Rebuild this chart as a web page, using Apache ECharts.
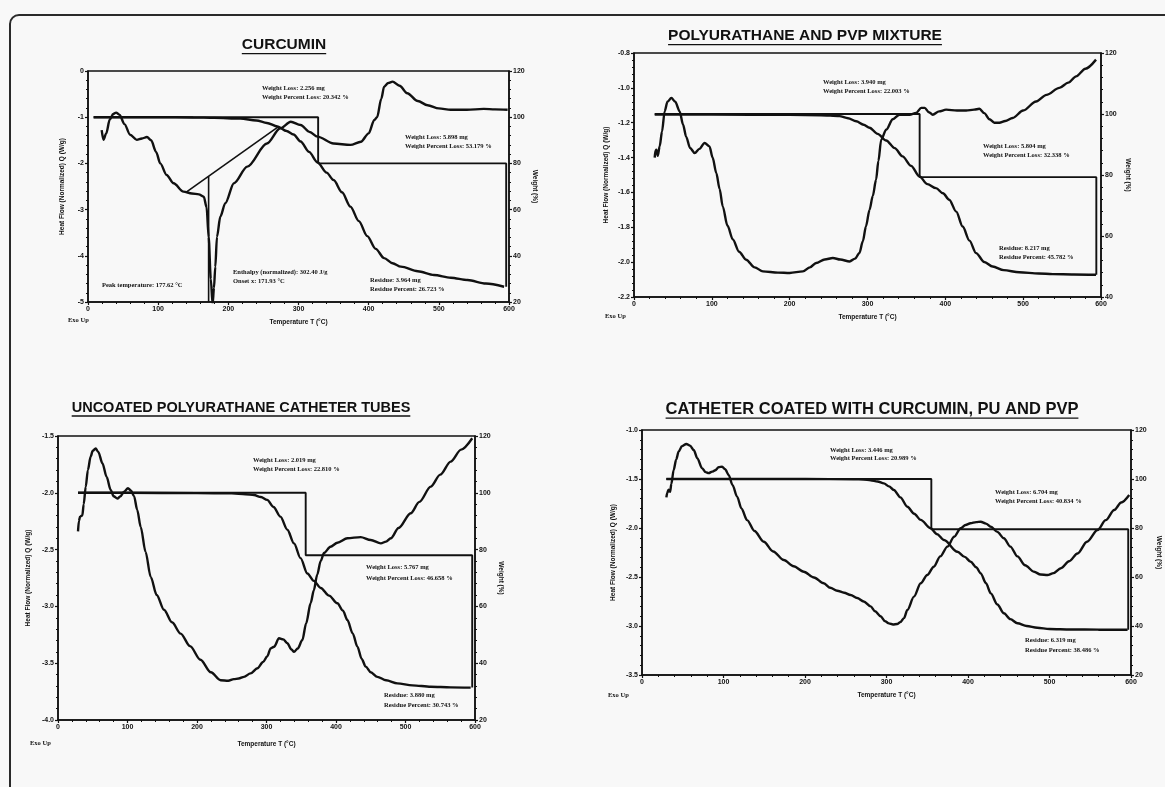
<!DOCTYPE html>
<html>
<head>
<meta charset="utf-8">
<script src="https://cdn.jsdelivr.net/npm/echarts/dist/echarts.min.js"></script>
<style>
  html, body { margin: 0; background: #f8f8f8; }
  #main { width: 1165px; height: 787px; }
</style>
</head>
<body>
<div id="main"></div>
<script>
// ---- data: [temperature °C, value] ----
const curcuminHeat = [[19.5,-1.28],[22,-1.49],[26,-1.35],[31,-1.05],[36,-0.93],[40,-0.90],[45,-0.95],[52,-1.15],[60,-1.38],[69.5,-1.49],[77,-1.46],[84,-1.43],[90,-1.5],[97,-1.75],[103,-2.0],[112,-2.25],[122,-2.43],[136,-2.61],[148,-2.65],[158,-2.67],[165,-2.72],[169,-2.95],[172,-3.6],[175,-4.5],[177.6,-5.05],[179.5,-4.7],[181.4,-4.24],[183.8,-3.59],[188.6,-3.15],[195.7,-2.86],[208,-2.43],[227,-2.07],[255,-1.57],[274,-1.24],[289,-1.10],[303,-1.17],[316,-1.32],[327,-1.42],[350,-1.57],[374,-1.60],[389,-1.53],[400,-1.35],[408,-1.06],[412,-1.0],[418,-0.6],[422,-0.34],[428,-0.26],[434,-0.23],[444,-0.32],[455,-0.48],[470,-0.65],[484,-0.74],[500,-0.81],[517,-0.84],[540,-0.84],[564,-0.82],[580,-0.83],[598,-0.84]];
const curcuminWeight = [[8,100],[50,100],[100,100],[150,99.9],[180,99.7],[217,99.4],[240,98.6],[255,97.5],[270,96],[283,94],[293,92.5],[303,89.5],[315,85],[327,80.5],[340,76],[350,72.8],[362,67.5],[374,61.3],[386,55],[398,48.5],[410,43],[422,39],[434,36.8],[446,35.3],[470,33.3],[493,31.7],[517,30.5],[541,29.5],[567,28],[593,26.6]];
const curcuminSteps = [[8,100],[328,100],[328,80],[596,80],[596,26.6]];
const curcuminBaseline = [[141,-2.61],[272,-1.2]];
const curcuminOnset = [[171.9,-2.28],[171.9,-5]];

const puPvpHeat = [[26.6,-1.40],[27.5,-1.36],[28.7,-1.355],[30.5,-1.39],[33,-1.335],[36,-1.25],[39.4,-1.135],[43,-1.08],[48,-1.058],[53,-1.08],[58.7,-1.135],[63,-1.21],[67,-1.28],[72,-1.345],[78,-1.374],[84,-1.35],[90.7,-1.316],[97,-1.336],[101,-1.40],[105.8,-1.49],[110,-1.58],[114,-1.68],[120,-1.79],[127,-1.87],[135,-1.94],[144,-1.986],[155,-2.03],[165.6,-2.053],[185,-2.06],[200,-2.062],[217,-2.053],[226,-2.03],[234,-2.005],[245,-1.985],[255.5,-1.976],[265,-1.985],[277,-1.996],[284,-1.98],[289.7,-1.947],[294,-1.88],[298,-1.795],[302.6,-1.70],[306.8,-1.62],[311,-1.527],[314,-1.42],[317.6,-1.297],[324,-1.24],[332.5,-1.18],[341,-1.154],[354,-1.154],[362.5,-1.144],[369,-1.115],[373.5,-1.115],[379,-1.14],[383.8,-1.154],[392,-1.135],[401,-1.125],[415,-1.13],[426.7,-1.13],[437,-1.125],[443.8,-1.12],[450,-1.145],[456.6,-1.18],[463,-1.2],[469.4,-1.20],[477,-1.19],[486.5,-1.173],[500,-1.13],[516.6,-1.078],[530,-1.04],[546.5,-1.0],[558,-0.97],[568,-0.934],[580,-0.89],[593.6,-0.838]];
const puPvpWeight = [[26.6,99.8],[100,99.8],[200,99.7],[240,99.6],[264,99.3],[275,98.6],[285.5,97.6],[295,96.5],[302.6,95.5],[313,93.5],[324,91.3],[335,88.8],[345,86.1],[356,83],[366.8,79.5],[377,77],[388,75.7],[397,74],[405,71.9],[414,68],[422.3,63.1],[431,58.5],[439.5,54.4],[450,51.5],[460.8,50.0],[475,48.8],[495,48.1],[520,47.7],[538,47.5],[565,47.4],[593.6,47.3]];
const puPvpSteps = [[26.6,100],[367,100],[367,79.3],[594,79.3],[594,47.3]];

const uncoatedHeat = [[28.8,-2.34],[30,-2.25],[31.7,-2.21],[35,-2.2],[37,-2.1],[39.9,-1.946],[43,-1.8],[47,-1.68],[50,-1.63],[54.2,-1.61],[58,-1.64],[63.9,-1.74],[70,-1.86],[75.8,-1.975],[80,-2.03],[85.5,-2.05],[90,-2.03],[95,-1.99],[100.7,-1.96],[105,-1.98],[109.4,-2.03],[114,-2.15],[119,-2.30],[126,-2.52],[133.4,-2.74],[142,-2.9],[152.5,-3.03],[164,-3.14],[176.5,-3.24],[190,-3.35],[205,-3.47],[220,-3.58],[234,-3.65],[245,-3.655],[253,-3.64],[260,-3.635],[267.6,-3.62],[277,-3.59],[287,-3.545],[295,-3.49],[301,-3.44],[306,-3.37],[311,-3.355],[318,-3.28],[324,-3.29],[330,-3.325],[336,-3.38],[339.6,-3.40],[345,-3.37],[351.6,-3.296],[357,-3.15],[363.6,-2.97],[368,-2.86],[373,-2.72],[378,-2.6],[382.7,-2.53],[392,-2.475],[402,-2.44],[416.4,-2.40],[435.5,-2.39],[450,-2.415],[464.5,-2.445],[472,-2.43],[479,-2.40],[490,-2.31],[507.5,-2.18],[520,-2.08],[536.3,-1.946],[550,-1.84],[565,-1.726],[580,-1.62],[596,-1.52]];
const uncoatedWeight = [[28.8,100],[100,100],[200,99.9],[250,99.8],[270,99.5],[282,99.2],[292,98.5],[301,97.5],[310,95],[320,91.6],[330,87],[339.6,82.2],[349,77],[358.8,71.6],[368,69],[378,66.5],[390,63.8],[402,61.1],[410,58.5],[416.4,55.2],[424,50.5],[430.8,45.8],[437,41.5],[442.7,38.8],[450,36.8],[459.5,35.2],[472,34],[488.3,32.9],[510,32.2],[536.3,31.7],[565,31.5],[593.8,31.4]];
const uncoatedSteps = [[28.8,100],[356.4,100],[356.4,78],[596,78],[596,31.4]];

const coatedHeat = [[29.9,-1.687],[31,-1.64],[32.7,-1.61],[34.5,-1.63],[36,-1.55],[38.8,-1.41],[42,-1.3],[45,-1.22],[49,-1.165],[54.4,-1.143],[59,-1.16],[63.4,-1.204],[68,-1.29],[73.7,-1.39],[78,-1.43],[81.8,-1.44],[86,-1.425],[90,-1.41],[94,-1.38],[98.3,-1.374],[102,-1.40],[106.4,-1.46],[111,-1.56],[116.7,-1.68],[122,-1.8],[129,-1.92],[138,-2.03],[149.4,-2.14],[161,-2.24],[174,-2.327],[186,-2.39],[198.5,-2.446],[211,-2.505],[223,-2.564],[231,-2.61],[239.5,-2.64],[248,-2.66],[256,-2.684],[264,-2.715],[272,-2.75],[280.5,-2.80],[286,-2.85],[292.7,-2.90],[298,-2.95],[303,-2.973],[308,-2.985],[313,-2.98],[317,-2.96],[321.4,-2.92],[325.6,-2.837],[333.7,-2.70],[342,-2.564],[350,-2.48],[358,-2.395],[366,-2.29],[374.7,-2.19],[383,-2.09],[391,-2.003],[397,-1.97],[403,-1.952],[410,-1.94],[415.6,-1.936],[422,-1.955],[428,-1.987],[436,-2.04],[444,-2.105],[452,-2.19],[460.7,-2.29],[470,-2.38],[481,-2.446],[489,-2.475],[497.5,-2.48],[505,-2.46],[514,-2.41],[524,-2.34],[534.4,-2.26],[546,-2.14],[559,-2.02],[569,-1.92],[579.4,-1.816],[588,-1.74],[597.8,-1.663]];
const coatedWeight = [[29.9,100],[100,100],[200,100],[260,99.9],[272,99.8],[280.5,99.5],[289,99],[296.8,98.2],[303,97],[309,95.5],[317,92.5],[325.6,88.7],[334,85.8],[342,83.3],[354,79.9],[362,77.5],[370.5,75.1],[387,70.3],[396,68.2],[403.3,66.2],[410,64],[415.6,61.5],[422,57.5],[428,53.3],[436,48.8],[444,45.2],[452,42.8],[460.7,41.1],[472,40],[485,39.3],[500,38.8],[526,38.6],[560,38.5],[595.8,38.5]];
const coatedSteps = [[29.9,100],[355,100],[355,79.5],[596.6,79.5],[596.6,38.5]];

// ---- panel layout ----
const ink = '#111';
const panels = [
  { title: 'CURCUMIN', tx: 284, ty: 45, tsize: 15.5,
    grid: { left: 88, top: 71, width: 421, height: 231 },
    q: [-5, 0, 1, 0], w: [20, 120, 20], gaps: [22, 22, 17], exo: [68, 320],
    heat: curcuminHeat, weight: curcuminWeight, steps: curcuminSteps,
    extra: [curcuminBaseline, curcuminOnset],
    notes: [['Weight Loss: 2.256 mg', 262, 88], ['Weight Percent Loss: 20.342 %', 262, 97],
            ['Weight Loss: 5.898 mg', 405, 137], ['Weight Percent Loss: 53.179 %', 405, 146.5],
            ['Peak temperature: 177.62 °C', 102, 285],
            ['Enthalpy (normalized): 302.40 J/g', 233, 272.5], ['Onset x: 171.93 °C', 233, 281],
            ['Residue: 3.964 mg', 370, 280.5], ['Residue Percent: 26.723 %', 370, 289.5]] },
  { title: 'POLYURATHANE AND PVP MIXTURE', tx: 805, ty: 36, tsize: 15.5,
    grid: { left: 634, top: 53, width: 467, height: 244 },
    q: [-2.2, -0.8, 0.2, 1], w: [40, 120, 20], gaps: [24, 23, 17], exo: [605, 316],
    heat: puPvpHeat, weight: puPvpWeight, steps: puPvpSteps, extra: [],
    notes: [['Weight Loss: 3.940 mg', 823, 82], ['Weight Percent Loss: 22.003 %', 823, 91],
            ['Weight Loss: 5.804 mg', 983, 146], ['Weight Percent Loss: 32.338 %', 983, 155],
            ['Residue: 8.217 mg', 999, 248], ['Residue Percent: 45.782 %', 999, 257]] },
  { title: 'UNCOATED POLYURATHANE CATHETER TUBES', tx: 241, ty: 408, tsize: 14.5,
    grid: { left: 58, top: 436, width: 417, height: 284 },
    q: [-4, -1.5, 0.5, 1], w: [20, 120, 20], gaps: [26, 22, 21], exo: [30, 743],
    heat: uncoatedHeat, weight: uncoatedWeight, steps: uncoatedSteps, extra: [],
    notes: [['Weight Loss: 2.019 mg', 253, 460], ['Weight Percent Loss: 22.810 %', 253, 469.5],
            ['Weight Loss: 5.767 mg', 366, 567], ['Weight Percent Loss: 46.658 %', 366, 578.5],
            ['Residue: 3.880 mg', 384, 695], ['Residue Percent: 30.743 %', 384, 705]] },
  { title: 'CATHETER COATED WITH CURCUMIN, PU AND PVP', tx: 872, ty: 409, tsize: 16.5,
    grid: { left: 642, top: 430, width: 489, height: 245 },
    q: [-3.5, -1, 0.5, 1], w: [20, 120, 20], gaps: [25, 24, 17], exo: [608, 695],
    heat: coatedHeat, weight: coatedWeight, steps: coatedSteps, extra: [],
    notes: [['Weight Loss: 3.446 mg', 830, 450], ['Weight Percent Loss: 20.989 %', 830, 458.5],
            ['Weight Loss: 6.704 mg', 995, 492], ['Weight Percent Loss: 40.834 %', 995, 501],
            ['Residue: 6.319 mg', 1025, 640], ['Residue Percent: 38.486 %', 1025, 650]] }
];

const tickLabel = { fontSize: 7, fontWeight: 'bold', color: ink, fontFamily: 'Liberation Sans' };
const nameStyle = { fontSize: 6.5, fontWeight: 'bold', color: ink, fontFamily: 'Liberation Sans' };
const axisBase = {
  axisLine: { show: true, onZero: false, lineStyle: { color: ink, width: 1.5 } },
  axisTick: { show: true, length: 3, lineStyle: { color: ink, width: 1.2 } },
  minorTick: { show: true, splitNumber: 5, length: 2, lineStyle: { color: ink, width: 1 } },
  splitLine: { show: false },
  nameLocation: 'middle',
  nameTextStyle: nameStyle
};

const measure = document.createElement('canvas').getContext('2d');

const grids = [], xAxes = [], yAxes = [], series = [], graphic = [];
graphic.push({ type: 'rect', shape: { x: 10, y: 15, width: 1200, height: 820, r: 9 },
  style: { fill: 'none', stroke: '#2a2a2a', lineWidth: 2 } });

panels.forEach((p, i) => {
  grids.push(Object.assign({ show: true, borderColor: ink, borderWidth: 1.5, backgroundColor: 'transparent' }, p.grid));
  xAxes.push(Object.assign({}, axisBase, {
    type: 'value', gridIndex: i, min: 0, max: 600, interval: 100,
    name: 'Temperature T (°C)', nameGap: p.gaps[2],
    axisLabel: Object.assign({ margin: 4 }, tickLabel)
  }));
  yAxes.push(Object.assign({}, axisBase, {
    type: 'value', gridIndex: i, position: 'left', min: p.q[0], max: p.q[1], interval: p.q[2],
    name: 'Heat Flow (Normalized) Q (W/g)', nameRotate: 90, nameGap: p.gaps[0],
    axisLabel: Object.assign({ margin: 4, formatter: v => v.toFixed(p.q[3]) }, tickLabel)
  }));
  yAxes.push(Object.assign({}, axisBase, {
    type: 'value', gridIndex: i, position: 'right', min: p.w[0], max: p.w[1], interval: p.w[2],
    name: 'Weight (%)', nameRotate: -90, nameGap: p.gaps[1],
    axisLabel: Object.assign({ margin: 4 }, tickLabel)
  }));

  const curve = (data, yIdx, smooth, width) => ({
    type: 'line', xAxisIndex: i, yAxisIndex: yIdx, data: data,
    smooth: smooth, smoothMonotone: smooth ? 'x' : undefined,
    showSymbol: false, symbol: 'none', silent: true,
    lineStyle: { color: ink, width: width }
  });
  series.push(curve(p.heat, 2 * i, 0.3, 2.4));
  series.push(curve(p.weight, 2 * i + 1, 0.3, 2.4));
  series.push(curve(p.steps, 2 * i + 1, false, 1.9));
  p.extra.forEach(seg => series.push(curve(seg, 2 * i, false, 1.6)));

  // title with underline
  const tfont = 'bold ' + p.tsize + 'px "Liberation Sans"';
  measure.font = tfont;
  const tw = measure.measureText(p.title).width;
  graphic.push({ type: 'text', x: p.tx, y: p.ty,
    style: { text: p.title, font: tfont, fill: ink, align: 'center', verticalAlign: 'middle' } });
  graphic.push({ type: 'line', shape: { x1: p.tx - tw / 2, y1: p.ty + p.tsize * 0.55, x2: p.tx + tw / 2, y2: p.ty + p.tsize * 0.55 },
    style: { stroke: ink, lineWidth: 1.3 } });

  p.notes.forEach(n => graphic.push({ type: 'text', x: n[1], y: n[2],
    style: { text: n[0], font: 'bold 6.5px "Liberation Serif"', fill: ink, verticalAlign: 'middle' } }));

  graphic.push({ type: 'text', x: p.exo[0], y: p.exo[1],
    style: { text: 'Exo Up', font: 'bold 6.5px "Liberation Serif"', fill: ink, verticalAlign: 'middle' } });
});

const chart = echarts.init(document.getElementById('main'), null, { renderer: 'canvas' });
chart.setOption({
  backgroundColor: '#f8f8f8',
  animation: false,
  grid: grids,
  xAxis: xAxes,
  yAxis: yAxes,
  series: series,
  graphic: graphic
});
</script>
</body>
</html>
